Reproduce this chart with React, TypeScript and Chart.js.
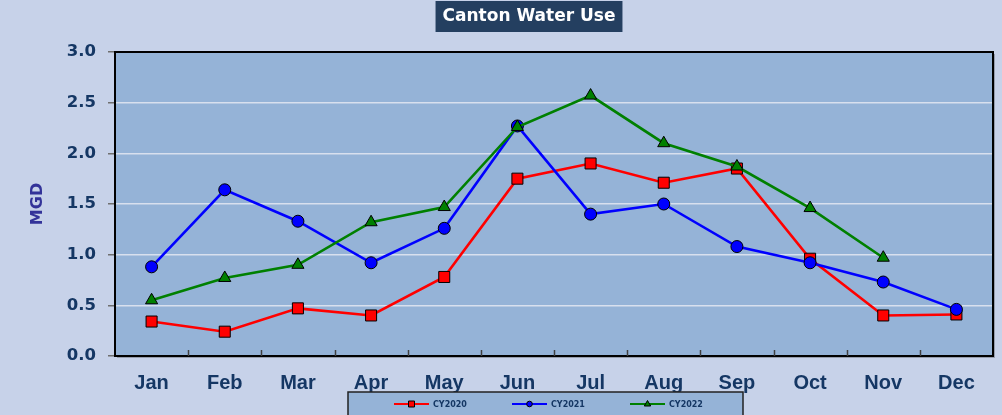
import React, { useEffect, useRef } from "react";
import { Chart, registerables } from "chart.js";

Chart.register(...registerables);

const months = ["Jan", "Feb", "Mar", "Apr", "May", "Jun", "Jul", "Aug", "Sep", "Oct", "Nov", "Dec"];
const cy2020 = [0.34, 0.24, 0.47, 0.40, 0.78, 1.75, 1.90, 1.71, 1.85, 0.96, 0.40, 0.41];
const cy2021 = [0.88, 1.64, 1.33, 0.92, 1.26, 2.27, 1.40, 1.50, 1.08, 0.92, 0.73, 0.46];
const cy2022: (number | null)[] = [0.55, 0.77, 0.90, 1.32, 1.47, 2.26, 2.57, 2.10, 1.87, 1.46, 0.97, null];
const seriesNames = ["CY2020", "CY2021", "CY2022"];
const seriesColors = ["#ff0000", "#0000ff", "#008000"];
const seriesMarkers = ["rect", "circle", "triangle"];
const titleText = "Canton Water Use";
const yTitle = "MGD";

const PAGE_BG = "#c7d2e9";
const PLOT_BG = "#95b3d7";
const NAVY = "#153764";

const decorPlugin = {
  id: "decor",
  beforeDraw(chart: any) {
    const { ctx, chartArea: a } = chart;
    ctx.save();
    ctx.fillStyle = PAGE_BG;
    ctx.fillRect(0, 0, chart.width, chart.height);
    // shadow
    ctx.fillStyle = "rgba(60,60,60,0.35)";
    ctx.fillRect(a.left + 2, a.top + 2, a.right - a.left, a.bottom - a.top);
    ctx.fillStyle = PLOT_BG;
    ctx.fillRect(a.left, a.top, a.right - a.left, a.bottom - a.top);
    // title box + text
    ctx.font = "bold 17px 'DejaVu Sans'";
    const tw = ctx.measureText(titleText).width;
    const cx = 529;
    ctx.fillStyle = "#243f60";
    ctx.fillRect(cx - tw / 2 - 7, 1, tw + 14, 31);
    ctx.fillStyle = "#ffffff";
    ctx.textAlign = "center";
    ctx.textBaseline = "middle";
    ctx.fillText(titleText, cx, 17);
    ctx.restore();
  },
  beforeDatasetsDraw(chart: any) {
    const { ctx, chartArea: a } = chart;
    ctx.save();
    ctx.strokeStyle = "#000";
    ctx.lineWidth = 2;
    ctx.strokeRect(a.left, a.top, a.right - a.left, a.bottom - a.top);
    // inner x tick marks at category boundaries
    const step = (a.right - a.left) / months.length;
    ctx.strokeStyle = "#404040";
    ctx.lineWidth = 1.5;
    for (let i = 1; i < months.length; i++) {
      const x = Math.round(a.left + step * i) + 0.5;
      ctx.beginPath();
      ctx.moveTo(x, a.bottom);
      ctx.lineTo(x, a.bottom - 6);
      ctx.stroke();
    }
    ctx.restore();
  },
  afterDraw(chart: any) {
    const { ctx } = chart;
    ctx.save();
    // legend box
    const lx = 348, ly = 392, lw = 395, lh = 30;
    ctx.fillStyle = PLOT_BG;
    ctx.fillRect(lx, ly, lw, lh);
    ctx.strokeStyle = "#222";
    ctx.lineWidth = 1.5;
    ctx.strokeRect(lx, ly, lw, lh);
    const cy = 404;
    for (let i = 0; i < seriesNames.length; i++) {
      const x0 = 394 + i * 118;
      ctx.strokeStyle = seriesColors[i];
      ctx.lineWidth = 2;
      ctx.beginPath();
      ctx.moveTo(x0, cy);
      ctx.lineTo(x0 + 35, cy);
      ctx.stroke();
      const mx = x0 + 17.5;
      ctx.fillStyle = seriesColors[i];
      ctx.strokeStyle = "#000";
      ctx.lineWidth = 1;
      ctx.beginPath();
      if (seriesMarkers[i] === "rect") {
        ctx.rect(mx - 3, cy - 3, 6, 6);
      } else if (seriesMarkers[i] === "circle") {
        ctx.arc(mx, cy, 2.8, 0, Math.PI * 2);
      } else {
        ctx.moveTo(mx, cy - 3.5);
        ctx.lineTo(mx + 3.2, cy + 2);
        ctx.lineTo(mx - 3.2, cy + 2);
        ctx.closePath();
      }
      ctx.fill();
      ctx.stroke();
      ctx.fillStyle = NAVY;
      ctx.font = "bold 8px 'DejaVu Sans'";
      ctx.textBaseline = "middle";
      ctx.textAlign = "left";
      ctx.fillText(seriesNames[i], x0 + 39, cy + 0.5);
    }
    ctx.restore();
  },
};

export default function App() {
  const ref = useRef<HTMLCanvasElement | null>(null);
  useEffect(() => {
    if (!ref.current) return;
    const mk = (i: number, data: (number | null)[], order: number, radius: number) => ({
      label: seriesNames[i],
      data,
      borderColor: seriesColors[i],
      backgroundColor: seriesColors[i],
      borderWidth: 2.6,
      pointStyle: seriesMarkers[i],
      pointRadius: radius,
      pointHoverRadius: radius,
      pointBorderColor: "#000",
      pointBorderWidth: 1,
      pointBackgroundColor: seriesColors[i],
      tension: 0,
      spanGaps: false,
      order,
    });
    const chart = new Chart(ref.current, {
      type: "line",
      data: {
        labels: months,
        datasets: [
          mk(0, cy2020, 2, 7.8),
          mk(1, cy2021, 1, 6),
          mk(2, cy2022, 0, 7),
        ],
      },
      plugins: [decorPlugin],
      options: {
        responsive: false,
        animation: false,
        layout: { padding: { top: 52, right: 9, left: 0, bottom: 0 } },
        plugins: {
          legend: { display: false },
          tooltip: { enabled: false },
          title: { display: false },
        },
        scales: {
          x: {
            type: "category",
            offset: true,
            grid: { display: false },
            border: { display: false },
            ticks: {
              color: NAVY,
              font: { family: "'Liberation Sans'", size: 20, weight: "bold" },
              padding: 7,
              maxRotation: 0,
              autoSkip: false,
            },
            afterFit: (s: any) => {
              s.height = 59;
            },
          },
          y: {
            min: 0,
            max: 3,
            ticks: {
              stepSize: 0.5,
              color: NAVY,
              font: { family: "'DejaVu Sans'", size: 16.5, weight: "bold" },
              padding: 12,
              callback: (v: any) => Number(v).toFixed(1),
            },
            grid: {
              color: "#d8e0ee",
              lineWidth: 1.5,
              tickColor: "#6f6f6f",
              tickLength: 7,
              drawTicks: true,
            },
            border: { display: false },
            title: {
              display: true,
              text: yTitle,
              color: "#333399",
              font: { family: "'DejaVu Sans'", size: 16, weight: "bold" },
              padding: { top: 28, bottom: 0 },
            },
            afterFit: (s: any) => {
              s.width = 115;
            },
          },
        },
      } as any,
    });
    return () => chart.destroy();
  }, []);
  return (
    <div style={{ position: "fixed", left: 0, top: 0, width: 1002, height: 415, background: PAGE_BG }}>
      <canvas ref={ref} width={1002} height={415} style={{ display: "block", width: 1002, height: 415 }} />
    </div>
  );
}
